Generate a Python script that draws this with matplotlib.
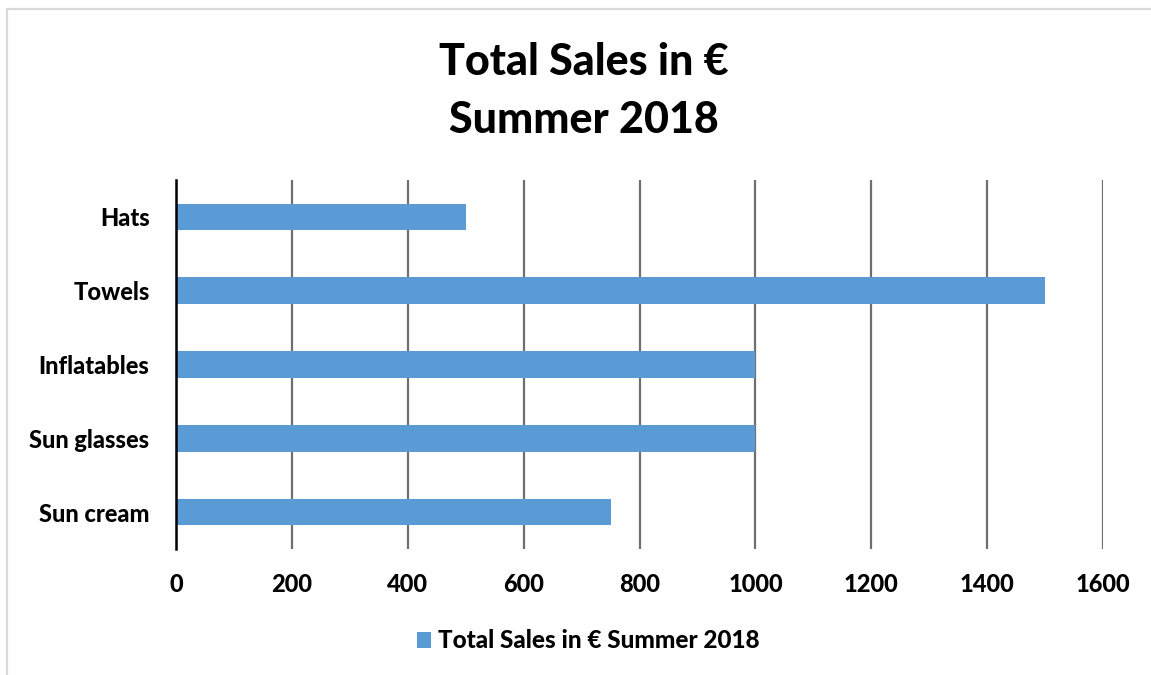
import matplotlib
matplotlib.use("Agg")
import matplotlib.pyplot as plt
from matplotlib.patches import Rectangle

categories = ["Sun cream", "Sun glasses", "Inflatables", "Towels", "Hats"]
values = [750, 1000, 1000, 1500, 500]
xticks = [0, 200, 400, 600, 800, 1000, 1200, 1400, 1600]
series_name = "Total Sales in € Summer 2018"
title = "Total Sales in €\nSummer 2018"

W, H = 1151, 675
fig = plt.figure(figsize=(W / 100, H / 100), dpi=100)
plt.rcParams['font.family'] = ['Lato', 'DejaVu Sans']
WEIGHT = 900

# outer chart border (light grey, only left/top visible)
fig.patches.append(Rectangle((7 / W, -0.1), 1.2, 1 - 9 / H + 0.1, transform=fig.transFigure,
                             fill=False, edgecolor="#d9d9d9", linewidth=1.6))

ax = fig.add_axes([176 / W, 1 - 549 / H, (1103 - 176) / W, (549 - 180) / H])
ypos = range(len(categories))
bars = ax.barh(ypos, values, height=0.36, color="#5B9BD5", label=series_name, zorder=3)
ax.set_xlim(0, 1600)
ax.set_ylim(-0.5, len(categories) - 0.5)
ax.set_xticks(xticks)
ax.set_xticklabels([str(t) for t in xticks], fontsize=17, fontweight=WEIGHT)
ax.set_yticks(list(ypos))
ax.set_yticklabels(categories, fontsize=17, fontweight=WEIGHT)
ax.tick_params(axis="both", length=0)
ax.tick_params(axis="x", pad=17)
ax.tick_params(axis="y", pad=19)
for s in ["top", "right", "bottom"]:
    ax.spines[s].set_visible(False)
ax.spines["left"].set_color("black")
ax.spines["left"].set_linewidth(1.8)
ax.spines["left"].set_zorder(4)
ax.grid(axis="x", color="#6f6f6f", linewidth=1.6, zorder=1)
ax.set_axisbelow(True)

fig.text(584 / W, 1 - 91 / H, title, ha="center", va="center", fontsize=31,
         fontweight=WEIGHT, linespacing=1.55)

fig.legend(handles=[bars], labels=[series_name], loc="center", bbox_to_anchor=(588 / W, 1 - 641 / H),
           frameon=False, prop={"weight": WEIGHT, "size": 17.5},
           handlelength=0.6, handleheight=0.6, handletextpad=0.25)

fig.savefig("out.png", dpi=100)
